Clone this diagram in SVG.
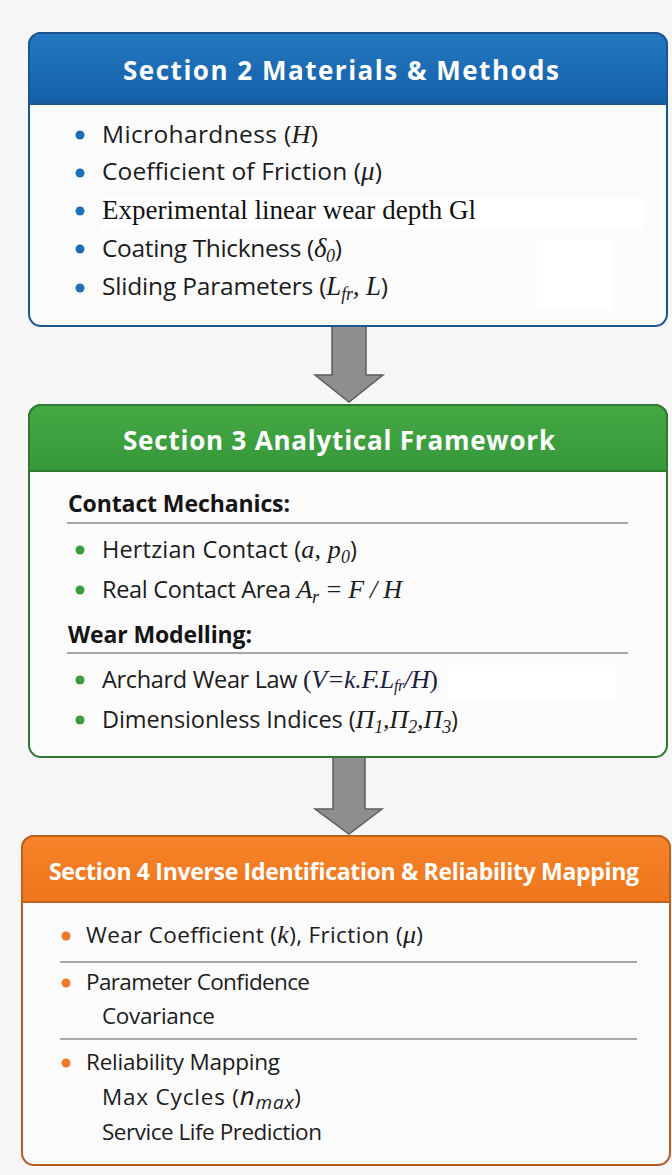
<svg xmlns="http://www.w3.org/2000/svg" width="672" height="1175" viewBox="0 0 672 1175">
<defs>
<linearGradient id="gBlue" x1="0" y1="0" x2="0" y2="1"><stop offset="0" stop-color="#2479c2"/><stop offset="1" stop-color="#135fa8"/></linearGradient>
<linearGradient id="gGreen" x1="0" y1="0" x2="0" y2="1"><stop offset="0" stop-color="#45a843"/><stop offset="1" stop-color="#36983a"/></linearGradient>
<linearGradient id="gOrange" x1="0" y1="0" x2="0" y2="1"><stop offset="0" stop-color="#f6842a"/><stop offset="1" stop-color="#ef751c"/></linearGradient>
</defs>
<style>
.title{font-family:"Open Sans","Noto Sans",sans-serif;font-weight:700;fill:#ffffff;}
.t{font-family:"Open Sans","Noto Sans",sans-serif;fill:#1c1c1c;}
.s1{font-size:24.5px;}
.s2{font-size:23.5px;}
.s3{font-size:22.5px;}
.m{font-family:"Liberation Serif",serif;font-style:italic;}
.h{font-family:"Open Sans","Noto Sans",sans-serif;font-size:23px;font-weight:700;fill:#141414;}
.sep{stroke:#8c8c8c;stroke-width:1.5;}
.arrow{fill:#8e8e8e;stroke:#5e5e5e;stroke-width:1.5;}
.body{fill:#fbfbfb;}
</style>
<rect width="672" height="1175" fill="#f6f6f6"/>

<g id="connectors">
<path class="arrow" d="M332,326 L366,326 L366,375 L383,375 L349,402 L315,375 L332,375 Z"/>
<path class="arrow" d="M333,757 L365,757 L365,809 L382,809 L349,834 L315,809 L333,809 Z"/>
</g>

<g id="section2">
<rect x="29" y="33" width="638" height="293" rx="12" class="body" stroke="#1d5590" stroke-width="2"/>
<path d="M41,33 H655 A12,12 0 0 1 667,45 V104 H29 V45 A12,12 0 0 1 41,33 Z" fill="url(#gBlue)" stroke="#1d5590" stroke-width="2"/>
<text class="title" x="341" y="80" font-size="26" text-anchor="middle" textLength="436">Section 2 Materials &amp; Methods</text>
<rect x="101" y="198" width="542" height="32" fill="#ffffff"/>
<rect x="537" y="240" width="75" height="70" fill="#ffffff"/>
<g fill="#1f6db4">
<circle cx="80" cy="135" r="4.5"/><circle cx="80" cy="173" r="4.5"/><circle cx="80" cy="211" r="4.5"/><circle cx="80" cy="249" r="4.5"/><circle cx="80" cy="288" r="4.5"/>
</g>
<text class="t s1" x="102" y="143" textLength="216">Microhardness (<tspan class="m" font-size="26">H</tspan>)</text>
<text class="t s1" x="102" y="180" textLength="280">Coefficient of Friction (<tspan class="m" font-size="27">μ</tspan>)</text>
<text x="102" y="219" font-family="Liberation Serif,serif" font-size="27" fill="#111111" textLength="374">Experimental linear wear depth Gl</text>
<text class="t s1" x="102" y="257" textLength="240">Coating Thickness (<tspan class="m" font-size="27">δ</tspan><tspan class="m" font-size="18" dy="5">0</tspan><tspan dy="-5">)</tspan></text>
<text class="t s1" x="102" y="295" textLength="286">Sliding Parameters (<tspan class="m" font-size="27">L</tspan><tspan class="m" font-size="18" dy="5">fr</tspan><tspan class="m" font-size="27" dy="-5">, L</tspan>)</text>
</g>

<g id="section3">
<rect x="29" y="405" width="638" height="352" rx="12" class="body" stroke="#2f7a30" stroke-width="2"/>
<path d="M41,405 H655 A12,12 0 0 1 667,417 V471 H29 V417 A12,12 0 0 1 41,405 Z" fill="url(#gGreen)" stroke="#2f7a30" stroke-width="2"/>
<text class="title" x="339" y="450" font-size="26" text-anchor="middle" textLength="432">Section 3 Analytical Framework</text>
<text class="h" x="68" y="512" textLength="222">Contact Mechanics:</text>
<line class="sep" x1="67" y1="523" x2="628" y2="523"/>
<text class="h" x="68" y="643" textLength="184">Wear Modelling:</text>
<line class="sep" x1="67" y1="653" x2="628" y2="653"/>
<rect x="447" y="665" width="169" height="35" fill="#ffffff"/>
<g fill="#3a9b3a">
<circle cx="80" cy="550" r="4.5"/><circle cx="80" cy="590" r="4.5"/><circle cx="80" cy="680" r="4.5"/><circle cx="80" cy="720" r="4.5"/>
</g>
<text class="t s2" x="102" y="558" textLength="255">Hertzian Contact (<tspan class="m" font-size="26">a, p</tspan><tspan class="m" font-size="18" dy="5">0</tspan><tspan dy="-5">)</tspan></text>
<text class="t s2" x="102" y="598" textLength="300">Real Contact Area <tspan class="m" font-size="26">A</tspan><tspan class="m" font-size="18" dy="5">r</tspan><tspan class="m" font-size="26" dy="-5"> = F / H</tspan></text>
<text class="t s2" x="102" y="688" textLength="336">Archard Wear Law <tspan font-family="Liberation Serif,serif" font-size="26" fill="#1a1f40">(<tspan font-style="italic">V=k.F.L</tspan><tspan font-style="italic" font-size="16" dy="3">fr</tspan><tspan font-style="italic" dy="-3">/H</tspan>)</tspan></text>
<text class="t s2" x="102" y="728" textLength="356">Dimensionless Indices (<tspan class="m" font-size="26">Π</tspan><tspan class="m" font-size="18" dy="5">1</tspan><tspan class="m" font-size="26" dy="-5">,Π</tspan><tspan class="m" font-size="18" dy="5">2</tspan><tspan class="m" font-size="26" dy="-5">,Π</tspan><tspan class="m" font-size="18" dy="5">3</tspan><tspan dy="-5">)</tspan></text>
</g>

<g id="section4">
<rect x="22" y="836" width="648" height="329" rx="12" class="body" stroke="#b85a24" stroke-width="2"/>
<path d="M34,836 H658 A12,12 0 0 1 670,848 V902 H22 V848 A12,12 0 0 1 34,836 Z" fill="url(#gOrange)" stroke="#c0601f" stroke-width="2"/>
<text class="title" x="49" y="880" font-size="23" textLength="590">Section 4 Inverse Identification &amp; Reliability Mapping</text>
<line class="sep" x1="60" y1="962" x2="637" y2="962"/>
<line class="sep" x1="60" y1="1039" x2="637" y2="1039"/>
<g fill="#f07a2a">
<circle cx="66" cy="936" r="4.5"/><circle cx="66" cy="983" r="4.5"/><circle cx="66" cy="1063" r="4.5"/>
</g>
<text class="t s3" x="86" y="943" textLength="337">Wear Coefficient (<tspan class="m" font-size="26">k</tspan>), Friction (<tspan class="m" font-size="26">μ</tspan>)</text>
<text class="t s3" x="86" y="990" textLength="224">Parameter Confidence</text>
<text class="t s3" x="102" y="1024" textLength="113">Covariance</text>
<text class="t s3" x="86" y="1070" textLength="194">Reliability Mapping</text>
<text class="t s3" x="102" y="1105" textLength="199">Max Cycles (<tspan font-style="italic" font-size="26">n</tspan><tspan font-style="italic" font-size="19" dy="4">max</tspan><tspan dy="-4">)</tspan></text>
<text class="t s3" x="102" y="1140" textLength="220">Service Life Prediction</text>
</g>
</svg>
